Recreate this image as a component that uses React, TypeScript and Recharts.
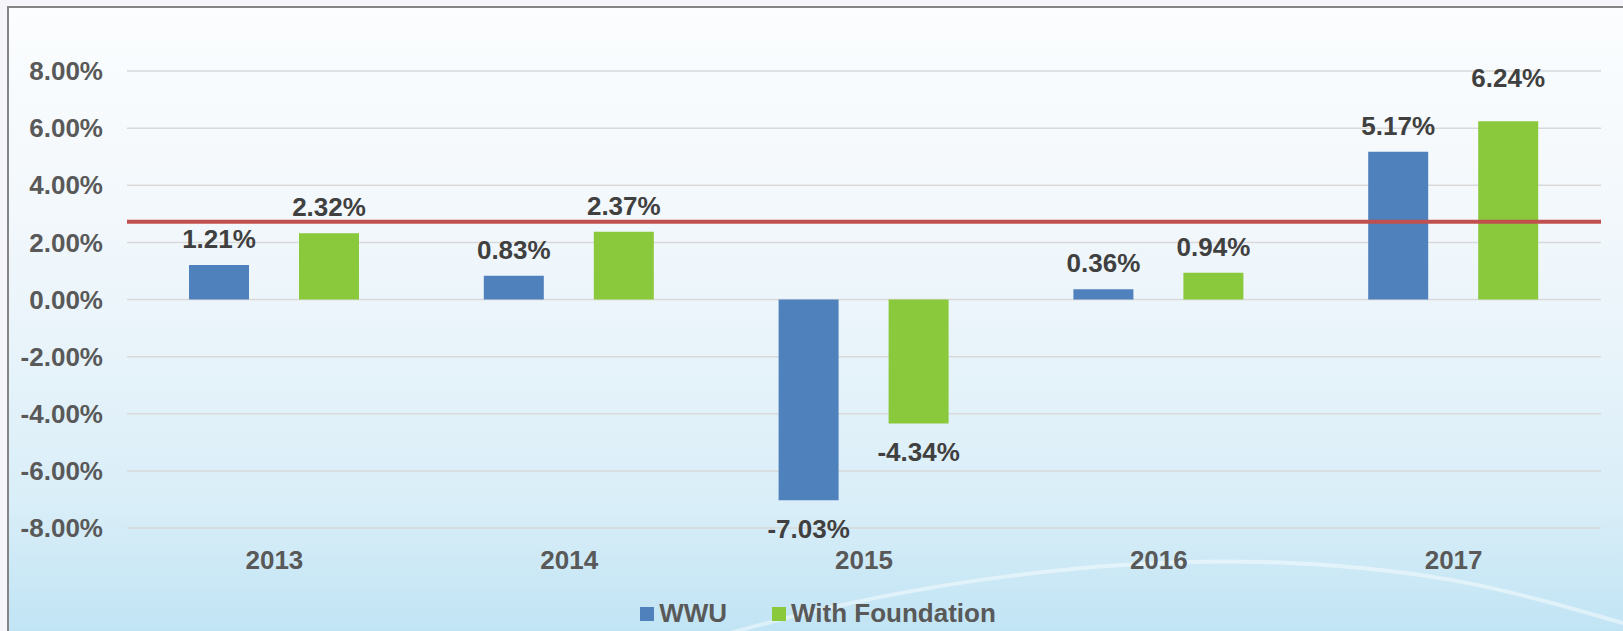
import React from 'react';
import { BarChart, Bar, XAxis, YAxis, CartesianGrid, ReferenceLine, Legend, LabelList } from 'recharts';

const categories = ['2013', '2014', '2015', '2016', '2017'];
const wwuValues = [1.21, 0.83, -7.03, 0.36, 5.17];
const foundationValues = [2.32, 2.37, -4.34, 0.94, 6.24];
const yTicks = [-8, -6, -4, -2, 0, 2, 4, 6, 8];
const benchmark = 2.72;
const seriesNames = ['WWU', 'With Foundation'];
const seriesColors = ['#4f81bd', '#89c93b'];

const data = categories.map((c, i) => ({ year: c, wwu: wwuValues[i], foundation: foundationValues[i] }));

const FONT = '"Liberation Sans", Arial, sans-serif';

// extra upward lift (px) for individually moved data labels, keyed by series-category
const labelLift: Record<string, number> = { 'foundation-2017': 17 };

const makeValueLabel = (seriesKey: string) => (props: any) => {
  const { x, y, width, height, value, index } = props;
  const top = Math.min(y, y + height);
  const bottom = Math.max(y, y + height);
  const cx = x + width / 2;
  const lift = labelLift[`${seriesKey}-${categories[index]}`] || 0;
  const cy = value >= 0 ? top - 26 - lift : bottom + 29;
  return (
    <text x={cx} y={cy} textAnchor="middle" dominantBaseline="central" fill="#404040"
      style={{ fontFamily: FONT, fontWeight: 700, fontSize: 26 }}>
      {Number(value).toFixed(2)}%
    </text>
  );
};

const renderLegend = (props: any) => {
  const payload = props.payload || [];
  return (
    <div style={{ display: 'flex', justifyContent: 'center', alignItems: 'center', paddingLeft: 13, fontFamily: FONT, fontWeight: 700, fontSize: 26, lineHeight: '30px', color: '#595959' }}>
      {payload.map((p: any, i: number) => (
        <div key={i} style={{ display: 'flex', alignItems: 'center', marginRight: i < payload.length - 1 ? 45 : 0 }}>
          <span style={{ display: 'inline-block', width: 14, height: 14, background: p.color, marginRight: 5, marginTop: 2 }} />
          <span>{p.value}</span>
        </div>
      ))}
    </div>
  );
};

export default function App() {
  return (
    <div style={{ position: 'absolute', left: 0, top: 0, width: 1623, height: 631, overflow: 'hidden', background: '#f6f6fa' }}>
      <div style={{ position: 'absolute', left: 7, top: 6, width: 1640, height: 660, border: '2px solid #858585',
        background: 'linear-gradient(to bottom, #fbfdfe 0%, #f3f8fc 30%, #e9f4fa 50%, #d9eef8 75%, #bae1f3 100%)' }} />
      <svg width={1623} height={631} style={{ position: 'absolute', left: 0, top: 0 }}>
        <path d="M 690 645 C 900 580, 1120 555, 1290 563 S 1540 600, 1630 625" fill="none" stroke="#ffffff" strokeOpacity={0.45} strokeWidth={4} />
      </svg>
      <div style={{ position: 'absolute', left: 0, top: 0 }}>
        <BarChart width={1623} height={631} data={data} barSize={60} barGap={50}
          margin={{ top: 71, right: 22, left: 27, bottom: 23 }}>
          <CartesianGrid vertical={false} stroke="#d9d9d9" strokeWidth={1.5} />
          <XAxis dataKey="year" axisLine={false} tickLine={false} tickSize={6} tickMargin={17} height={50}
            tick={{ fill: '#595959', fontFamily: FONT, fontWeight: 700, fontSize: 26 }} interval={0} />
          <YAxis domain={[-8, 8]} ticks={yTicks} axisLine={false} tickLine={false} tickSize={6} tickMargin={18} width={100}
            tickFormatter={(v: number) => v.toFixed(2) + '%'}
            tick={{ fill: '#595959', fontFamily: FONT, fontWeight: 700, fontSize: 26 }} />
          <Legend verticalAlign="bottom" content={renderLegend}
            wrapperStyle={{ position: 'absolute', left: 0, top: 598, width: 1623, height: 30 }} />
          <Bar dataKey="wwu" name={seriesNames[0]} fill={seriesColors[0]} isAnimationActive={false}>
            <LabelList dataKey="wwu" content={makeValueLabel('wwu')} />
          </Bar>
          <Bar dataKey="foundation" name={seriesNames[1]} fill={seriesColors[1]} isAnimationActive={false}>
            <LabelList dataKey="foundation" content={makeValueLabel('foundation')} />
          </Bar>
          <ReferenceLine y={benchmark} stroke="#c0504d" strokeWidth={4} ifOverflow="visible" />
        </BarChart>
      </div>
    </div>
  );
}
